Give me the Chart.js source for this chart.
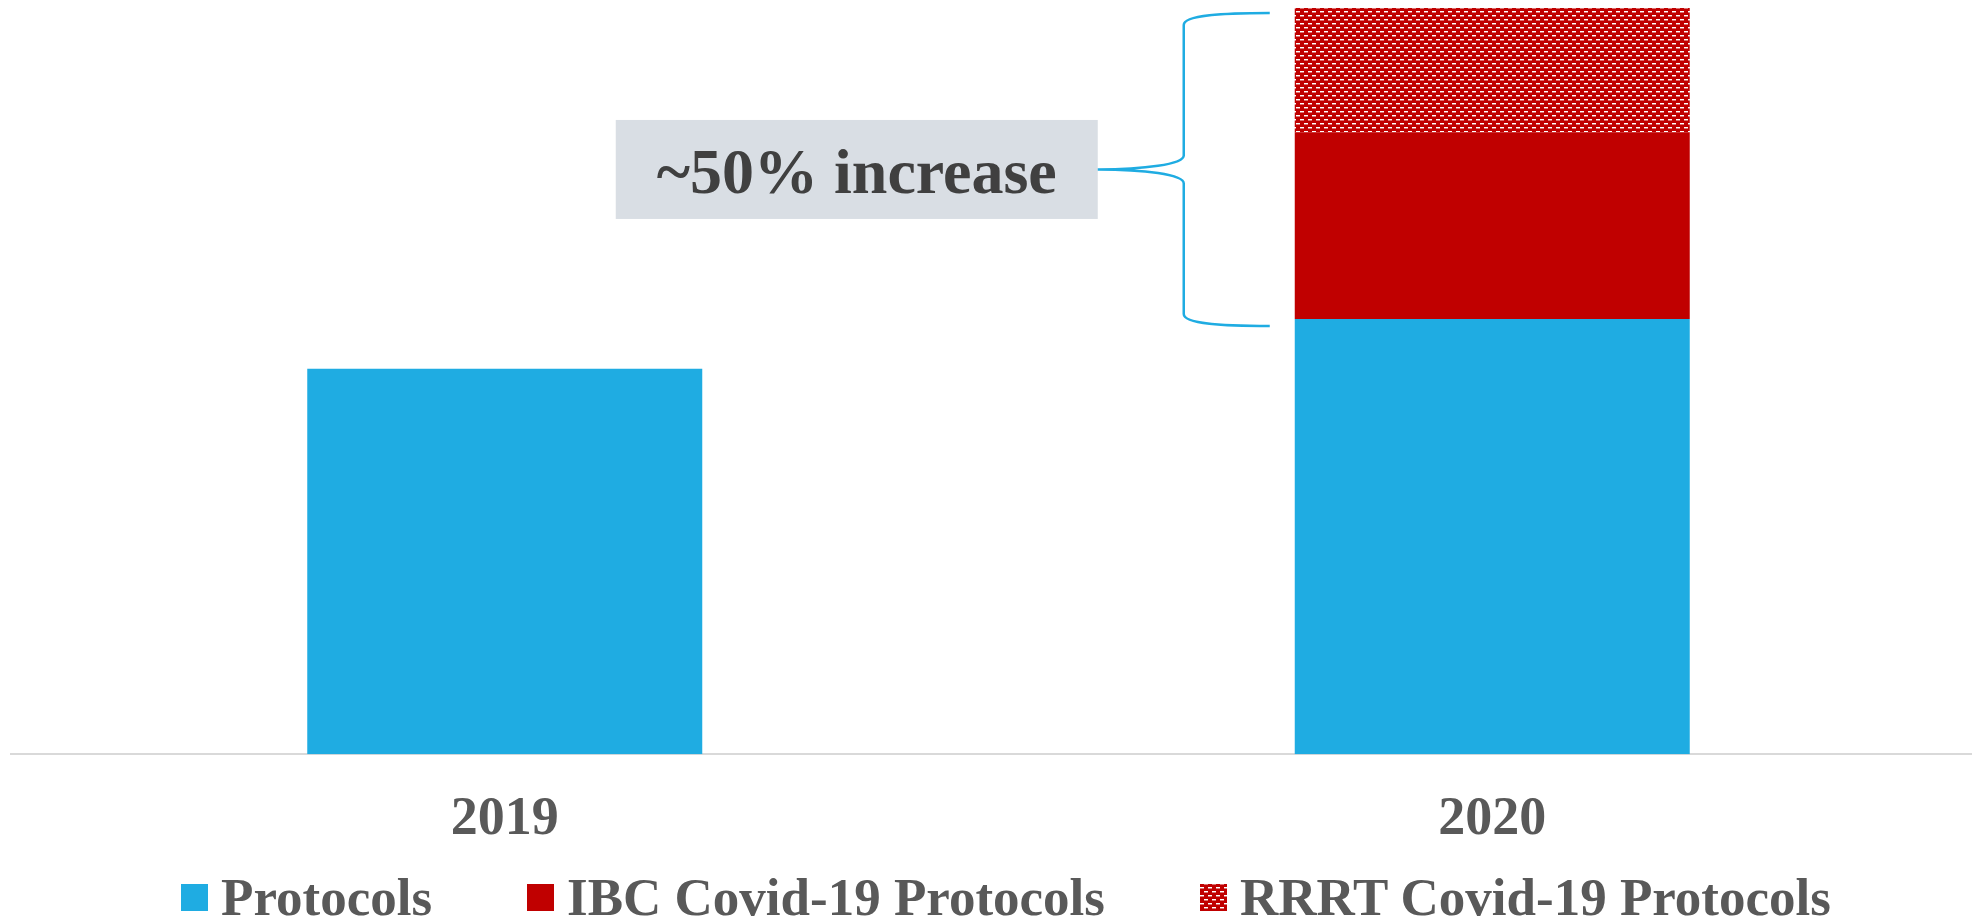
<!DOCTYPE html>
<html>
<head>
<meta charset="utf-8">
<title>Protocols 2019 vs 2020</title>
<script src="https://cdn.jsdelivr.net/npm/chart.js@4.4.0/dist/chart.umd.min.js"></script>
<style>
    html, body { margin: 0; padding: 0; background: #ffffff; overflow: hidden; }
    .wrap { position: relative; width: 1972px; height: 923px; overflow: hidden; }
    canvas { display: block; }
    #legend {
        position: absolute; left: 0; top: 871px; width: 1972px;
        box-sizing: border-box; padding-left: 40px;
        display: flex; justify-content: center; align-items: center;
    }
    .legend-item { display: flex; align-items: center; margin-right: 95px; }
    .legend-item:last-child { margin-right: 0; }
    .legend-item canvas { margin-right: 13px; }
    .legend-item span {
        font: bold 53px 'Liberation Serif', 'Times New Roman', serif;
        line-height: 53px; color: #595959; white-space: nowrap;
    }
</style>
</head>
<body>
<div class="wrap">
    <!-- canvas a bit wider than the window: the slide crops the plot on the right -->
    <canvas id="protocolChart" width="1986" height="923"></canvas>
    <div id="legend"></div>
</div>
<script>
// --- chart data ---
const years = ['2019', '2020'];
const seriesNames = ['Protocols', 'IBC Covid-19 Protocols', 'RRRT Covid-19 Protocols'];
const protocols = [62, 70];
const ibcCovid = [0, 30];
const rrrtCovid = [0, 20];
const yMax = 120;
const calloutText = '~50% increase';

const BLUE = '#1FACE2';
const RED = '#C00000';
const FONT = "'Liberation Serif', 'Times New Roman', serif";

// red fill with little white dashes (brick layout) for the RRRT series
function makeDashTile() {
    const tile = document.createElement('canvas');
    tile.width = 8;
    tile.height = 8;
    const t = tile.getContext('2d');
    t.fillStyle = RED;
    t.fillRect(0, 0, 8, 8);
    t.fillStyle = '#ffffff';
    t.fillRect(0, 3, 4, 1);
    t.fillRect(4, 7, 4, 1);
    t.fillStyle = 'rgba(255,255,255,0.45)';
    t.fillRect(0, 4, 4, 1);
    t.fillRect(4, 0, 4, 1);
    return tile;
}

const canvas = document.getElementById('protocolChart');
const ctx = canvas.getContext('2d');
const dashPattern = ctx.createPattern(makeDashTile(), 'repeat');
const seriesColors = [BLUE, RED, dashPattern];

// brace + grey label pointing at the 2020 covid part of the stack
const calloutPlugin = {
    id: 'callout',
    afterDatasetsDraw(chart) {
        const c = chart.ctx;
        const y = chart.scales.y;
        const bar = chart.getDatasetMeta(0).data[1];
        const barLeft = bar.x - bar.width / 2;

        const top = y.getPixelForValue(protocols[1] + ibcCovid[1] + rrrtCovid[1]) + 5;
        const bottom = y.getPixelForValue(protocols[1]) + 7;
        const mid = (top + bottom) / 2;
        const endX = barLeft - 25;
        const spineX = barLeft - 111;
        const tipX = barLeft - 197;
        const boxW = 482, boxH = 99;

        c.save();
        c.fillStyle = '#D9DEE4';
        c.fillRect(tipX - boxW, mid - boxH / 2, boxW, boxH);
        c.fillStyle = '#404040';
        c.font = 'bold 64px ' + FONT;
        c.textAlign = 'center';
        c.textBaseline = 'alphabetic';
        c.fillText(calloutText, tipX - boxW / 2, mid + 24);

        c.strokeStyle = BLUE;
        c.lineWidth = 2.5;
        c.beginPath();
        c.moveTo(endX, top);
        c.bezierCurveTo(spineX + 40, top, spineX, top + 2, spineX, top + 12);
        c.lineTo(spineX, mid - 14);
        c.bezierCurveTo(spineX, mid - 5, spineX - 40, mid, tipX, mid);
        c.bezierCurveTo(spineX - 40, mid, spineX, mid + 5, spineX, mid + 14);
        c.lineTo(spineX, bottom - 12);
        c.bezierCurveTo(spineX, bottom - 2, spineX + 40, bottom, endX, bottom);
        c.stroke();
        c.restore();
    }
};

// legend built as html so the spacing can follow the original slide
const htmlLegendPlugin = {
    id: 'htmlLegend',
    afterUpdate(chart) {
        const box = document.getElementById('legend');
        box.innerHTML = '';
        const items = chart.options.plugins.legend.labels.generateLabels(chart);
        items.forEach(item => {
            const el = document.createElement('div');
            el.className = 'legend-item';
            const swatch = document.createElement('canvas');
            swatch.width = 27;
            swatch.height = 27;
            const sc = swatch.getContext('2d');
            sc.fillStyle = item.fillStyle;
            sc.fillRect(0, 0, 27, 27);
            const label = document.createElement('span');
            label.textContent = item.text;
            el.appendChild(swatch);
            el.appendChild(label);
            box.appendChild(el);
        });
    }
};

new Chart(canvas, {
    type: 'bar',
    data: {
        labels: years,
        datasets: [
            { label: seriesNames[0], data: protocols, backgroundColor: seriesColors[0] },
            { label: seriesNames[1], data: ibcCovid, backgroundColor: seriesColors[1] },
            { label: seriesNames[2], data: rrrtCovid, backgroundColor: seriesColors[2] }
        ]
    },
    options: {
        responsive: false,
        animation: false,
        devicePixelRatio: 1,
        layout: { padding: { top: 8, left: 11, right: 0, bottom: 38 } },
        datasets: {
            bar: { categoryPercentage: 1, barPercentage: 0.4, borderWidth: 0 }
        },
        scales: {
            x: {
                stacked: true,
                grid: { display: false, drawTicks: false },
                border: { display: true, color: '#D9D9D9', width: 2 },
                ticks: {
                    padding: 33,
                    color: '#595959',
                    font: { family: FONT, size: 54, weight: 'bold', lineHeight: 1.2 }
                }
            },
            y: {
                stacked: true,
                display: false,
                min: 0,
                max: yMax
            }
        },
        plugins: {
            legend: { display: false },
            tooltip: { enabled: false }
        }
    },
    plugins: [calloutPlugin, htmlLegendPlugin]
});
</script>
</body>
</html>
